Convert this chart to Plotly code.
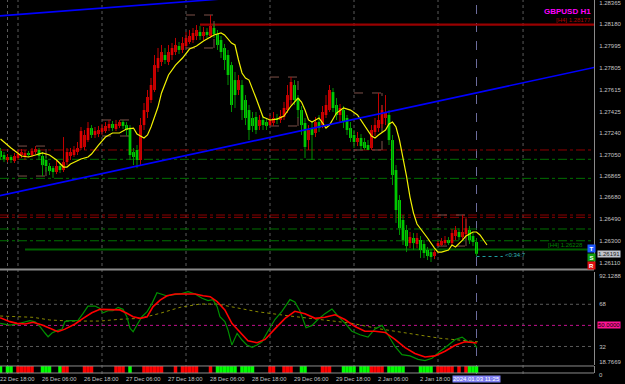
import plotly.graph_objects as go

# ---------------- data ----------------
days = [("22 Dec", range(18, 24)), ("26 Dec", range(24)), ("27 Dec", range(24)),
        ("28 Dec", range(24)), ("29 Dec", range(24)), ("2 Jan", range(24)), ("3 Jan", range(12))]
bar_time = [f"{d} {h:02d}:00" for d, hrs in days for h in hrs]

open_ = [1.27065, 1.27082, 1.27047, 1.27004, 1.27030, 1.26995, 1.27021, 1.27047, 1.27030, 1.27065,
         1.27047, 1.27073, 1.27091, 1.27039, 1.27004, 1.26952, 1.26934, 1.26900, 1.26952, 1.26917,
         1.26986, 1.27039, 1.27047, 1.27073, 1.27108, 1.27117, 1.27177, 1.27281, 1.27221, 1.27229,
         1.27247, 1.27255, 1.27281, 1.27316, 1.27273, 1.27299, 1.27333, 1.27307, 1.27281, 1.27073,
         1.27091, 1.27004, 1.27307, 1.27420, 1.27524, 1.27611, 1.27801, 1.27854, 1.27914, 1.27854,
         1.27914, 1.27940, 1.27992, 1.27958, 1.27992, 1.28027, 1.28044, 1.28079, 1.28114, 1.28079,
         1.28114, 1.28079, 1.28148, 1.28096, 1.28044, 1.27975, 1.27914, 1.27827, 1.27697, 1.27611,
         1.27654, 1.27524, 1.27437, 1.27368, 1.27377, 1.27299, 1.27351, 1.27333, 1.27307, 1.27325,
         1.27368, 1.27351, 1.27377, 1.27437, 1.27524, 1.27654, 1.27541, 1.27437, 1.27325, 1.27177,
         1.27281, 1.27238, 1.27333, 1.27307, 1.27394, 1.27437, 1.27593, 1.27481, 1.27394, 1.27437,
         1.27368, 1.27281, 1.27221, 1.27160, 1.27195, 1.27160, 1.27134, 1.27108, 1.27247, 1.27281,
         1.27316, 1.27368, 1.27394, 1.27177, 1.26917, 1.26657, 1.26484, 1.26397, 1.26284, 1.26328,
         1.26276, 1.26310, 1.26276, 1.26224, 1.26206, 1.26172, 1.26258, 1.26267, 1.26293, 1.26310,
         1.26284, 1.26345, 1.26380, 1.26336, 1.26362, 1.26397, 1.26345, 1.26293]
high = [1.27091, 1.27108, 1.27073, 1.27056, 1.27047, 1.27065, 1.27091, 1.27099, 1.27091, 1.27082,
        1.27108, 1.27125, 1.27108, 1.27073, 1.27039, 1.26978, 1.26952, 1.27004, 1.26978, 1.27203,
        1.27108, 1.27108, 1.27125, 1.27160, 1.27290, 1.27264, 1.27333, 1.27307, 1.27290, 1.27299,
        1.27316, 1.27333, 1.27351, 1.27342, 1.27351, 1.27351, 1.27351, 1.27333, 1.27307, 1.27108,
        1.27134, 1.27368, 1.27498, 1.27611, 1.27715, 1.27914, 1.27975, 1.28001, 1.27975, 1.28001,
        1.28018, 1.28062, 1.28027, 1.28070, 1.28114, 1.28131, 1.28148, 1.28174, 1.28166, 1.28157,
        1.28148, 1.28261, 1.28183, 1.28131, 1.28079, 1.28010, 1.27958, 1.27854, 1.27767, 1.27741,
        1.27697, 1.27567, 1.27481, 1.27420, 1.27420, 1.27394, 1.27385, 1.27368, 1.27394, 1.27420,
        1.27403, 1.27437, 1.27507, 1.27654, 1.27723, 1.27697, 1.27567, 1.27472, 1.27368, 1.27307,
        1.27333, 1.27377, 1.27394, 1.27472, 1.27567, 1.27654, 1.27628, 1.27541, 1.27489, 1.27472,
        1.27394, 1.27333, 1.27264, 1.27247, 1.27229, 1.27195, 1.27177, 1.27307, 1.27368, 1.27585,
        1.27481, 1.27567, 1.27437, 1.27221, 1.26960, 1.26700, 1.26527, 1.26440, 1.26380, 1.26371,
        1.26371, 1.26345, 1.26310, 1.26250, 1.26232, 1.26224, 1.26302, 1.26328, 1.26345, 1.26336,
        1.26406, 1.26432, 1.26414, 1.26527, 1.26510, 1.26432, 1.26380, 1.26328]
low = [1.27004, 1.27004, 1.26986, 1.26986, 1.26978, 1.26978, 1.27004, 1.27021, 1.27004, 1.27030,
       1.27030, 1.27056, 1.27004, 1.26865, 1.26900, 1.26874, 1.26848, 1.26882, 1.26891, 1.26900,
       1.26960, 1.27004, 1.27030, 1.27047, 1.27091, 1.27091, 1.27160, 1.27195, 1.27195, 1.27203,
       1.27221, 1.27238, 1.27255, 1.27255, 1.27255, 1.27281, 1.27273, 1.27212, 1.27004, 1.26960,
       1.26934, 1.26960, 1.27264, 1.27368, 1.27498, 1.27593, 1.27767, 1.27819, 1.27836, 1.27827,
       1.27871, 1.27914, 1.27923, 1.27932, 1.27975, 1.28010, 1.28018, 1.28044, 1.28044, 1.28044,
       1.28062, 1.28062, 1.28062, 1.27958, 1.27888, 1.27784, 1.27654, 1.27420, 1.27455, 1.27567,
       1.27351, 1.27307, 1.27177, 1.27247, 1.27229, 1.27264, 1.27264, 1.27264, 1.27299, 1.27299,
       1.27316, 1.27325, 1.27351, 1.27411, 1.27481, 1.27481, 1.27368, 1.27221, 1.27021, 1.27091,
       1.27004, 1.27203, 1.27247, 1.27281, 1.27368, 1.27420, 1.27420, 1.27351, 1.27333, 1.27281,
       1.27221, 1.27160, 1.27108, 1.27125, 1.27091, 1.27091, 1.27091, 1.27091, 1.27212, 1.27247,
       1.27281, 1.27307, 1.27134, 1.26787, 1.26458, 1.26354, 1.26267, 1.26206, 1.26241, 1.26224,
       1.26241, 1.26154, 1.26154, 1.26137, 1.26120, 1.26145, 1.26258, 1.26258, 1.26267, 1.26267,
       1.26267, 1.26310, 1.26310, 1.26310, 1.26336, 1.26276, 1.26258, 1.26172]
close = [1.27030, 1.27030, 1.27013, 1.27030, 1.27004, 1.27039, 1.27056, 1.27073, 1.27065, 1.27047,
         1.27082, 1.27099, 1.27039, 1.26960, 1.26952, 1.26908, 1.26900, 1.26952, 1.26917, 1.26986,
         1.27073, 1.27073, 1.27091, 1.27108, 1.27255, 1.27221, 1.27281, 1.27221, 1.27255, 1.27264,
         1.27281, 1.27299, 1.27316, 1.27281, 1.27316, 1.27333, 1.27299, 1.27264, 1.27047, 1.27030,
         1.27004, 1.27307, 1.27437, 1.27550, 1.27654, 1.27827, 1.27888, 1.27940, 1.27871, 1.27940,
         1.27975, 1.28001, 1.27958, 1.28018, 1.28062, 1.28079, 1.28105, 1.28131, 1.28079, 1.28114,
         1.28088, 1.28166, 1.28096, 1.28001, 1.27940, 1.27871, 1.27741, 1.27481, 1.27567, 1.27697,
         1.27437, 1.27368, 1.27264, 1.27299, 1.27264, 1.27351, 1.27307, 1.27299, 1.27351, 1.27368,
         1.27351, 1.27385, 1.27455, 1.27567, 1.27680, 1.27524, 1.27437, 1.27307, 1.27117, 1.27264,
         1.27221, 1.27333, 1.27281, 1.27420, 1.27481, 1.27611, 1.27455, 1.27394, 1.27455, 1.27333,
         1.27264, 1.27195, 1.27160, 1.27195, 1.27125, 1.27108, 1.27091, 1.27264, 1.27307, 1.27351,
         1.27437, 1.27420, 1.27177, 1.26874, 1.26570, 1.26414, 1.26310, 1.26258, 1.26336, 1.26284,
         1.26328, 1.26224, 1.26198, 1.26172, 1.26163, 1.26206, 1.26284, 1.26302, 1.26310, 1.26284,
         1.26371, 1.26397, 1.26336, 1.26380, 1.26414, 1.26310, 1.26293, 1.26191]

# yellow moving average (bar index, price)
ma_idx = [1, 4, 7, 9, 11, 13, 15, 17, 19, 20, 21, 24, 26, 27, 29, 31, 33, 35, 37, 39, 40, 42, 43, 44, 46, 47,
          49, 51, 53, 55, 57, 59, 61, 62, 64, 65, 67, 68, 69, 70, 71, 72, 74, 75, 76, 78, 80, 82, 84, 86, 87,
          88, 89, 90, 92, 93, 94, 95, 97, 99, 101, 103, 105, 107, 108, 109, 111, 112, 113, 114, 115, 116, 117,
          118, 119, 120, 122, 123, 125, 126, 127, 129, 130, 131, 133, 134, 136, 137, 138, 139, 140]
ma_val = [1.27186, 1.27108, 1.27039, 1.27030, 1.27047, 1.27065, 1.27047, 1.27004, 1.26943, 1.26943, 1.26969,
          1.27013, 1.27030, 1.27056, 1.27134, 1.27203, 1.27238, 1.27238, 1.27273, 1.27281, 1.27229, 1.27195,
          1.27221, 1.27290, 1.27463, 1.27585, 1.27741, 1.27827, 1.27888, 1.27966, 1.27992, 1.28036, 1.28070,
          1.28088, 1.28105, 1.28088, 1.28018, 1.28001, 1.27871, 1.27758, 1.27715, 1.27697, 1.27541, 1.27455,
          1.27377, 1.27351, 1.27359, 1.27385, 1.27472, 1.27541, 1.27507, 1.27437, 1.27351, 1.27333, 1.27368,
          1.27325, 1.27281, 1.27307, 1.27411, 1.27455, 1.27437, 1.27394, 1.27299, 1.27212, 1.27195, 1.27221,
          1.27264, 1.27316, 1.27333, 1.27290, 1.27177, 1.27030, 1.26865, 1.26683, 1.26544, 1.26449, 1.26371,
          1.26328, 1.26241, 1.26206, 1.26206, 1.26224, 1.26267, 1.26250, 1.26310, 1.26345, 1.26380, 1.26380,
          1.26354, 1.26310, 1.26267]

# oscillator sub-window (bar index, value)
green_idx = [0.9, 3.7, 5.7, 8.0, 9.4, 10.9, 12.3, 13.7, 14.6, 15.7, 17.1, 18.6, 19.4, 20.9, 23.1, 24.6, 26.0,
             28.0, 29.4, 30.3, 31.7, 33.1, 34.6, 36.0, 37.1, 38.0, 38.9, 40.0, 41.4, 42.9, 44.3, 45.7, 47.1,
             48.6, 50.0, 52.3, 54.6, 56.6, 58.6, 60.3, 61.7, 62.9, 63.7, 65.1, 66.0, 67.1, 68.6, 70.0, 71.4,
             72.9, 74.3, 75.7, 77.4, 79.4, 81.4, 83.7, 85.1, 86.6, 88.3, 90.0, 91.7, 93.7, 95.7, 97.4, 99.4,
             101.4, 103.7, 106.0, 108.0, 110.0, 111.7, 113.7, 115.7, 118.0, 120.3, 122.3, 124.3, 126.6, 128.9,
             130.9, 132.9, 134.6, 136.0, 137.1]
green_val = [51.7, 50.3, 51.2, 53.2, 54.0, 53.0, 48.9, 43.5, 40.3, 43.5, 45.5, 46.8, 53.2, 54.0, 54.0, 60.3, 66.5,
             66.5, 64.5, 60.8, 62.5, 62.5, 65.4, 63.7, 57.4, 47.5, 44.6, 50.3, 57.4, 61.7, 68.8, 77.9, 76.8,
             75.1, 76.0, 76.8, 78.7, 76.8, 73.1, 71.1, 72.0, 66.0, 57.4, 53.2, 46.0, 33.3, 43.2, 37.5, 33.3,
             31.3, 33.3, 36.0, 45.0, 55.0, 62.0, 72.0, 70.0, 62.0, 48.0, 50.0, 55.0, 60.0, 64.0, 58.0, 52.0,
             45.0, 42.0, 40.0, 47.0, 50.0, 42.0, 32.0, 25.0, 24.0, 21.0, 20.0, 22.0, 28.0, 33.0,
             38.0, 40.0, 36.0, 36.0, 31.0]
red_idx = [0.9, 3.7, 5.7, 8.0, 10.3, 12.9, 15.1, 17.4, 19.4, 22.3, 24.6, 27.1, 29.4, 32.3, 35.1, 37.1, 38.9,
           40.9, 42.9, 44.6, 46.6, 48.6, 50.9, 53.7, 56.6, 58.9, 60.9, 62.9, 65.1, 67.1, 69.4, 71.7, 74.3,
           76.6, 79.4, 82.3, 85.1, 88.0, 90.9, 93.7, 96.6, 99.4, 102.3, 105.1, 108.0, 110.9, 113.7, 116.6,
           119.4, 122.3, 125.1, 128.0, 130.9, 133.7, 137.1]
red_val = [56.6, 53.2, 51.7, 51.2, 52.6, 50.3, 47.5, 44.6, 46.8, 51.2, 56.0, 60.8, 63.7, 63.2, 63.2, 60.3, 57.4,
           56.0, 57.4, 66.0, 71.6, 75.3, 76.8, 76.8, 76.8, 75.3, 74.5, 70.2, 63.2, 51.7, 44.6, 36.9, 35.2,
           38.0, 47.0, 56.0, 62.0, 60.0, 56.0, 57.0, 59.0, 55.0, 49.0, 45.0, 45.0, 44.0, 38.0, 31.0,
           26.0, 23.0, 24.0, 28.0, 33.0, 36.0, 35.0]
olive_idx = [0.9, 10.3, 15.1, 20.9, 29.4, 35.1, 40.9, 46.6, 52.3, 58.0, 62.9, 67.4, 74.3, 83.7, 92.3, 100.9,
             109.4, 118.0, 126.6, 137.4]
olive_val = [58.0, 56.9, 54.6, 53.7, 53.7, 55.2, 56.0, 60.3, 65.4, 68.2, 68.2, 65.4, 61.7, 58.0, 55.0, 52.0,
             47.0, 43.0, 39.0, 36.0]

# bottom colour strip: 1 = red, -1 = green, 0 = none
strip_state = [0, -1, 0, -1, -1, 0, 1, 1, 1, 1,
               1, 0, 0, -1, -1, -1, 0, 0, -1, 1,
               1, 0, 0, 0, 0, 1, 1, 1, 0, 0,
               0, 0, 0, 0, 1, 1, 1, 0, -1, 0,
               0, 0, 1, 1, 1, 1, 1, 1, 0, 0,
               0, 1, 0, 1, 1, 1, 1, 1, 0, 0,
               0, 1, 0, -1, -1, -1, -1, -1, -1, 0,
               -1, -1, -1, -1, 0, 0, 0, 0, 1, 1,
               0, 0, 1, 1, 1, 0, 0, -1, -1, 0,
               0, 0, 0, 1, 1, 1, 0, 0, 0, -1,
               -1, -1, -1, 0, -1, -1, -1, 1, 1, 1,
               1, 0, -1, -1, -1, -1, -1, 0, 0, 0,
               0, -1, -1, -1, -1, 0, 1, 1, 1, 1,
               1, 0, 1, 0, 1, -1, -1, -1]

# session boxes (start bar, top, bottom), 8 bars wide
box_start = [6, 30, 54, 78, 102, 126]
box_top = [1.27125, 1.27351, 1.28261, 1.27723, 1.27585, 1.26527]
box_bottom = [1.26865, 1.27212, 1.27975, 1.27299, 1.27091, 1.26258]

# horizontal dash-dot levels
level_red = [1.27091, 1.26527, 1.26507]
level_green = [1.27010, 1.26845, 1.26406, 1.26304]
h4_high, h4_high_start = 1.28177, 58
h4_low, h4_low_start = 1.26228, 8

# trend lines (bar index, price) anchors
trend_upper = ([0, 171], [1.28251, 1.28648])
trend_lower = ([0, 171], [1.26689, 1.27809])

day_sep = [6, 30, 54, 78, 102, 126]
extra_vlines = [3, 150.3]
current_bar = 137
bid = 1.26191

price_ticks = [1.28365, 1.28180, 1.27995, 1.27805, 1.27615, 1.27425, 1.27240, 1.27050,
               1.26865, 1.26680, 1.26490, 1.26300, 1.26110]
osc_ticks = [92.1288, 68, 32, 18.7669]
osc_tick_text = ["92.1288", "68", "32", "18.7669"]
label_times = ["22 Dec 18:00", "26 Dec 06:00", "26 Dec 18:00", "27 Dec 06:00", "27 Dec 18:00",
               "28 Dec 06:00", "28 Dec 18:00", "29 Dec 06:00", "29 Dec 18:00", "2 Jan 06:00", "2 Jan 18:00"]

# ---------------- figure ----------------
N = len(close)
idx = list(range(N))
XMIN, XMAX = 0.857, 170.57
FONT = "Liberation Sans"
AXC = "#c4c4c4"
GRID = "#5a5a5a"

def xfrac(i):
    return (i - XMIN) / (XMAX - XMIN)

fig = go.Figure()

# wicks
for want_up, col in [(True, "#c00000"), (False, "#009000")]:
    xs, ys = [], []
    for i in idx:
        up = close[i] >= open_[i]
        if up == want_up:
            xs += [i, i, None]
            ys += [low[i], high[i], None]
    fig.add_trace(go.Scatter(x=xs, y=ys, mode="lines", line=dict(color=col, width=1),
                             hoverinfo="skip", showlegend=False))
body_base = [min(o, c) for o, c in zip(open_, close)]
body_h = [max(abs(c - o), 0.00003) for o, c in zip(open_, close)]
body_col = ["#ff0000" if c >= o else "#00ff00" for o, c in zip(open_, close)]
fig.add_trace(go.Bar(x=idx, y=body_h, base=body_base, width=0.74,
                     marker=dict(color=body_col, line_width=0), showlegend=False, hoverinfo="skip"))

# moving average
fig.add_trace(go.Scatter(x=ma_idx, y=ma_val, mode="lines", line=dict(color="#f2f200", width=1.2),
                         hoverinfo="skip", showlegend=False))
# trend lines
for xs, ys in [trend_upper, trend_lower]:
    fig.add_trace(go.Scatter(x=xs, y=ys, mode="lines", line=dict(color="#0000ff", width=1.6),
                             hoverinfo="skip", showlegend=False))

# oscillator
fig.add_trace(go.Scatter(x=olive_idx, y=olive_val, mode="lines", line=dict(color="#8a8a00", width=1, dash="dot"),
                         xaxis="x2", yaxis="y2", hoverinfo="skip", showlegend=False))
fig.add_trace(go.Scatter(x=green_idx, y=green_val, mode="lines", line=dict(color="#009000", width=1.2),
                         xaxis="x2", yaxis="y2", hoverinfo="skip", showlegend=False))
fig.add_trace(go.Scatter(x=red_idx, y=red_val, mode="lines", line=dict(color="#ff0000", width=1.6),
                         xaxis="x2", yaxis="y2", hoverinfo="skip", showlegend=False))

# strip
fig.add_trace(go.Bar(x=idx, y=[1 if s != 0 else 0 for s in strip_state], width=1.0,
                     marker=dict(color=["#ff0000" if s == 1 else "#00ff00" for s in strip_state], line_width=0),
                     xaxis="x3", yaxis="y3", showlegend=False, hoverinfo="skip"))

shapes = []
# day separators and extra verticals through all panels
for v in day_sep + extra_vlines:
    shapes.append(dict(type="line", xref="x", yref="paper", x0=v, x1=v, y0=0, y1=1,
                       line=dict(color=GRID, width=1, dash="dot"), layer="below"))
shapes.append(dict(type="line", xref="x", yref="paper", x0=current_bar, x1=current_bar, y0=0, y1=1,
                   line=dict(color="#6c6c9c", width=1, dash="dash"), layer="below"))
# levels
for lv in level_red:
    shapes.append(dict(type="line", xref="paper", yref="y", x0=0, x1=1, y0=lv, y1=lv,
                       line=dict(color="#8c0000", width=1, dash="dashdot"), layer="below"))
for lv in level_green:
    shapes.append(dict(type="line", xref="paper", yref="y", x0=0, x1=1, y0=lv, y1=lv,
                       line=dict(color="#007000", width=1, dash="dashdot"), layer="below"))
shapes.append(dict(type="line", xref="x", yref="y", x0=h4_high_start, x1=XMAX, y0=h4_high, y1=h4_high,
                   line=dict(color="#990000", width=2.2), layer="below"))
shapes.append(dict(type="line", xref="x", yref="y", x0=h4_low_start, x1=XMAX, y0=h4_low, y1=h4_low,
                   line=dict(color="#006000", width=2), layer="below"))
# session boxes
for s, t, b in zip(box_start, box_top, box_bottom):
    bc = dict(color="#7c5048", width=1, dash="dash")
    shapes.append(dict(type="line", xref="x", yref="y", x0=s, x1=s + 8, y0=t, y1=t, line=bc, layer="below"))
    shapes.append(dict(type="line", xref="x", yref="y", x0=s, x1=s + 8, y0=b, y1=b, line=bc, layer="below"))
    shapes.append(dict(type="line", xref="x", yref="y", x0=s + 8, x1=s + 8, y0=b, y1=t, line=bc, layer="below"))
# oscillator levels
for lv, col in [(68, GRID), (32, GRID), (50, "#c0108c")]:
    shapes.append(dict(type="line", xref="paper", yref="y2", x0=0, x1=1, y0=lv, y1=lv,
                       line=dict(color=col, width=1, dash="dot"), layer="below"))
# panel borders
for yy, w in [(0.2794, 2), (0.0214, 1), (0.0027, 1)]:
    shapes.append(dict(type="line", xref="paper", yref="paper", x0=0, x1=1, y0=yy, y1=yy,
                       line=dict(color="#8a8a8a", width=w)))
# countdown dotted line
shapes.append(dict(type="line", xref="x", yref="paper", x0=current_bar, x1=current_bar + 7.5,
                   y0=0.3142, y1=0.3142, line=dict(color="#20a0a0", width=1, dash="dot")))

ann = []
for t in label_times:
    ann.append(dict(text=t, xref="paper", yref="paper", x=xfrac(bar_time.index(t)), y=-0.0134,
                    xanchor="left", yanchor="middle", xshift=1, showarrow=False,
                    font=dict(family=FONT, size=5.8, color=AXC)))
ann.append(dict(text="2024.01.03 11:25", xref="paper", yref="paper", x=xfrac(current_bar), y=-0.0134,
                xanchor="center", yanchor="middle", showarrow=False, bgcolor="#7e7ef0", borderpad=0,
                font=dict(family=FONT, size=6, color="#ffffff")))
ann.append(dict(text="<b>GBPUSD H1</b>", xref="paper", yref="paper", x=1, y=0.968, xanchor="right",
                yanchor="middle", xshift=-1, showarrow=False, font=dict(family=FONT, size=8, color="#ff00ff")))
ann.append(dict(text=f"[H4] {h4_high:.5f}", xref="paper", yref="y", x=1, y=h4_high, xanchor="right",
                yanchor="bottom", xshift=-1, yshift=0, showarrow=False, font=dict(family=FONT, size=6, color="#b00000")))
ann.append(dict(text=f"[H4] {h4_low:.5f}", xref="paper", yref="y", x=1, y=h4_low, xanchor="right",
                yanchor="bottom", xshift=-9, showarrow=False, font=dict(family=FONT, size=6, color="#008000")))
for letter, col, yy in [("T", "#1e5aff", 0.3356), ("S", "#10a010", 0.3128), ("R", "#e01010", 0.2888)]:
    ann.append(dict(text=f"<b>{letter}</b>", xref="paper", yref="paper", x=0.9958, y=yy, xanchor="center",
                    yanchor="middle", showarrow=False, bgcolor=col, borderpad=0, width=7, height=7,
                    font=dict(family=FONT, size=6, color="#ffffff")))
ann.append(dict(text="&lt;0:34:7", xref="x", yref="paper", x=current_bar + 7.5, y=0.318, xanchor="left",
                yanchor="middle", showarrow=False, font=dict(family=FONT, size=6, color="#30b4b4")))
ann.append(dict(text=f"{bid:.5f}", xref="paper", yref="y", x=1, y=bid, xanchor="left", yanchor="middle",
                xshift=3, showarrow=False, bgcolor="#c0c4cc", borderpad=0,
                font=dict(family=FONT, size=6, color="#202020")))
ann.append(dict(text="50.0000", xref="paper", yref="y2", x=1, y=50, xanchor="left", yanchor="middle",
                xshift=3, showarrow=False, bgcolor="#ff1493", borderpad=0,
                font=dict(family=FONT, size=6, color="#000000")))
ann.append(dict(text="0", xref="paper", yref="paper", x=1, y=-0.0027, xanchor="left", yanchor="middle",
                xshift=3, showarrow=False, font=dict(family=FONT, size=6, color=AXC)))

axis_common = dict(showgrid=False, zeroline=False, showline=True, linecolor="#8a8a8a", linewidth=1,
                   ticks="", ticklabelstandoff=3, ticklabeloverflow="allow",
                   tickfont=dict(family=FONT, size=6, color=AXC))
fig.update_layout(
    width=625, height=384, margin=dict(l=0, r=31, t=0, b=10),
    paper_bgcolor="black", plot_bgcolor="black", barmode="overlay",
    font=dict(family=FONT, size=6, color=AXC),
    shapes=shapes, annotations=ann, showlegend=False,
    xaxis=dict(range=[XMIN, XMAX], showticklabels=False, showgrid=False, zeroline=False, anchor="y",
               rangeslider=dict(visible=False)),
    xaxis2=dict(range=[XMIN, XMAX], showticklabels=False, showgrid=False, zeroline=False, anchor="y2", matches="x"),
    xaxis3=dict(range=[XMIN, XMAX], showticklabels=False, showgrid=False, zeroline=False, anchor="y3", matches="x"),
    yaxis=dict(domain=[0.2807, 1], range=[1.26059, 1.28391], side="right", tickvals=price_ticks,
               ticktext=[f"{v:.5f}" for v in price_ticks], **axis_common),
    yaxis2=dict(domain=[0.0241, 0.2727], range=[16.21, 95.54], side="right", anchor="x2",
                tickvals=osc_ticks, ticktext=osc_tick_text, **axis_common),
    yaxis3=dict(domain=[0.0027, 0.0214], range=[0, 1], side="right", anchor="x3", showticklabels=False,
                showgrid=False, zeroline=False, showline=True, linecolor="#8a8a8a"),
)

fig.write_html("out.html")
